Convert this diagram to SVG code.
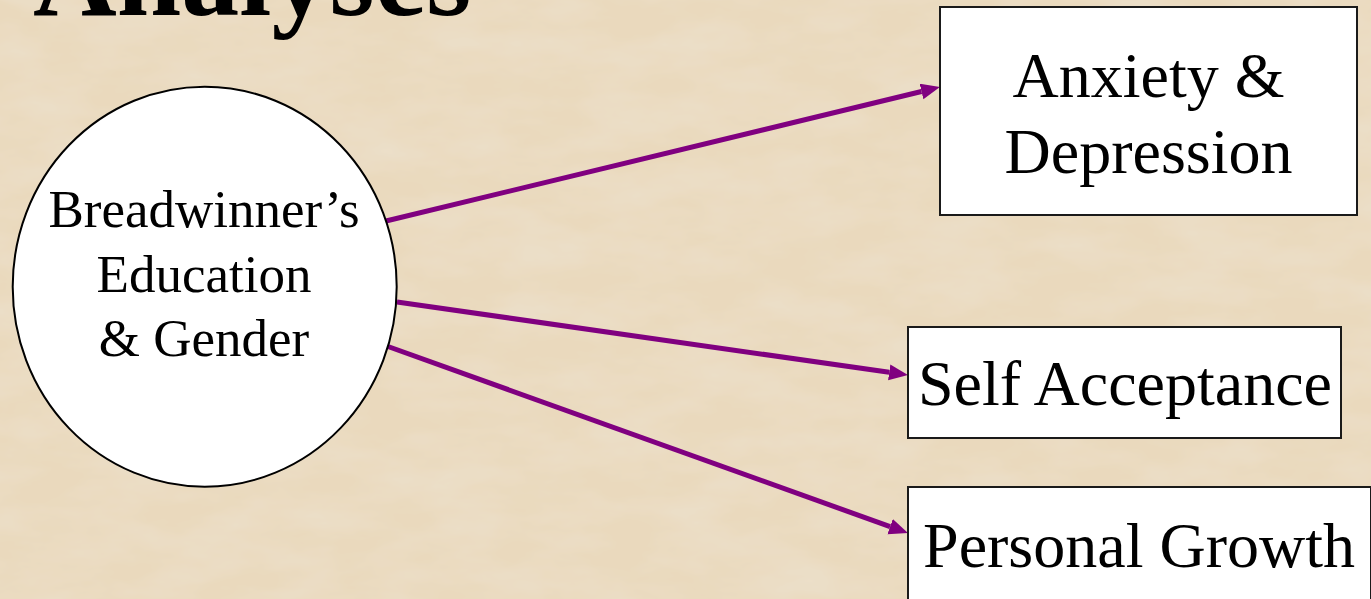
<svg xmlns="http://www.w3.org/2000/svg" width="1371" height="599" viewBox="0 0 1371 599">
<defs>
<filter id="paper" x="0" y="0" width="100%" height="100%">
<feTurbulence type="fractalNoise" baseFrequency="0.012 0.03" numOctaves="4" seed="7" result="n"/>
<feColorMatrix in="n" type="matrix" values="0 0 0 0 0.84  0 0 0 0 0.76  0 0 0 0 0.62  0 0 0 1.1 -0.35" result="c"/>
<feComposite in="c" in2="SourceGraphic" operator="over"/>
</filter>
<marker id="ah" markerUnits="userSpaceOnUse" markerWidth="22" markerHeight="18" refX="0" refY="8" orient="auto">
<path d="M0,0 L19,8 L0,16 z" fill="#800080"/>
</marker>
<style>
.box{fill:#fff;stroke:#1a1a1a;stroke-width:2}
.conn{stroke:#800080;stroke-width:5;fill:none;marker-end:url(#ah)}
</style>
</defs>
<rect x="0" y="0" width="1371" height="599" fill="#ead9bd" filter="url(#paper)"/>
<text x="33" y="15" font-family="Liberation Serif, Times New Roman, serif" font-weight="bold" font-size="116" fill="#000">Analyses</text>
<g id="connectors">
<line class="conn" x1="386" y1="221" x2="921.5" y2="91.5"/>
<line class="conn" x1="397" y1="302" x2="889.2" y2="372.3"/>
<line class="conn" x1="381" y1="344" x2="890.1" y2="526.6"/>
</g>
<g id="node-breadwinner" font-family="Liberation Serif, Times New Roman, serif" text-anchor="middle" font-size="53" fill="#000">
<ellipse cx="204.7" cy="286.7" rx="192" ry="200" fill="#fff" stroke="#000" stroke-width="2"/>
<text x="204" y="227">Breadwinner’s</text>
<text x="204" y="292">Education</text>
<text x="204" y="356">&amp; Gender</text>
</g>
<g id="node-anxiety" font-family="Liberation Serif, Times New Roman, serif" text-anchor="middle" font-size="64" fill="#000">
<rect class="box" x="940" y="7" width="417" height="208"/>
<text x="1148.5" y="97">Anxiety &amp;</text>
<text x="1148.5" y="173">Depression</text>
</g>
<g id="node-self" font-family="Liberation Serif, Times New Roman, serif" text-anchor="middle" font-size="64" fill="#000">
<rect class="box" x="908" y="327" width="433" height="111"/>
<text x="1125" y="405">Self Acceptance</text>
</g>
<g id="node-growth" font-family="Liberation Serif, Times New Roman, serif" text-anchor="middle" font-size="64" fill="#000">
<rect class="box" x="908" y="487" width="463" height="130"/>
<text x="1139" y="567">Personal Growth</text>
</g>
</svg>
